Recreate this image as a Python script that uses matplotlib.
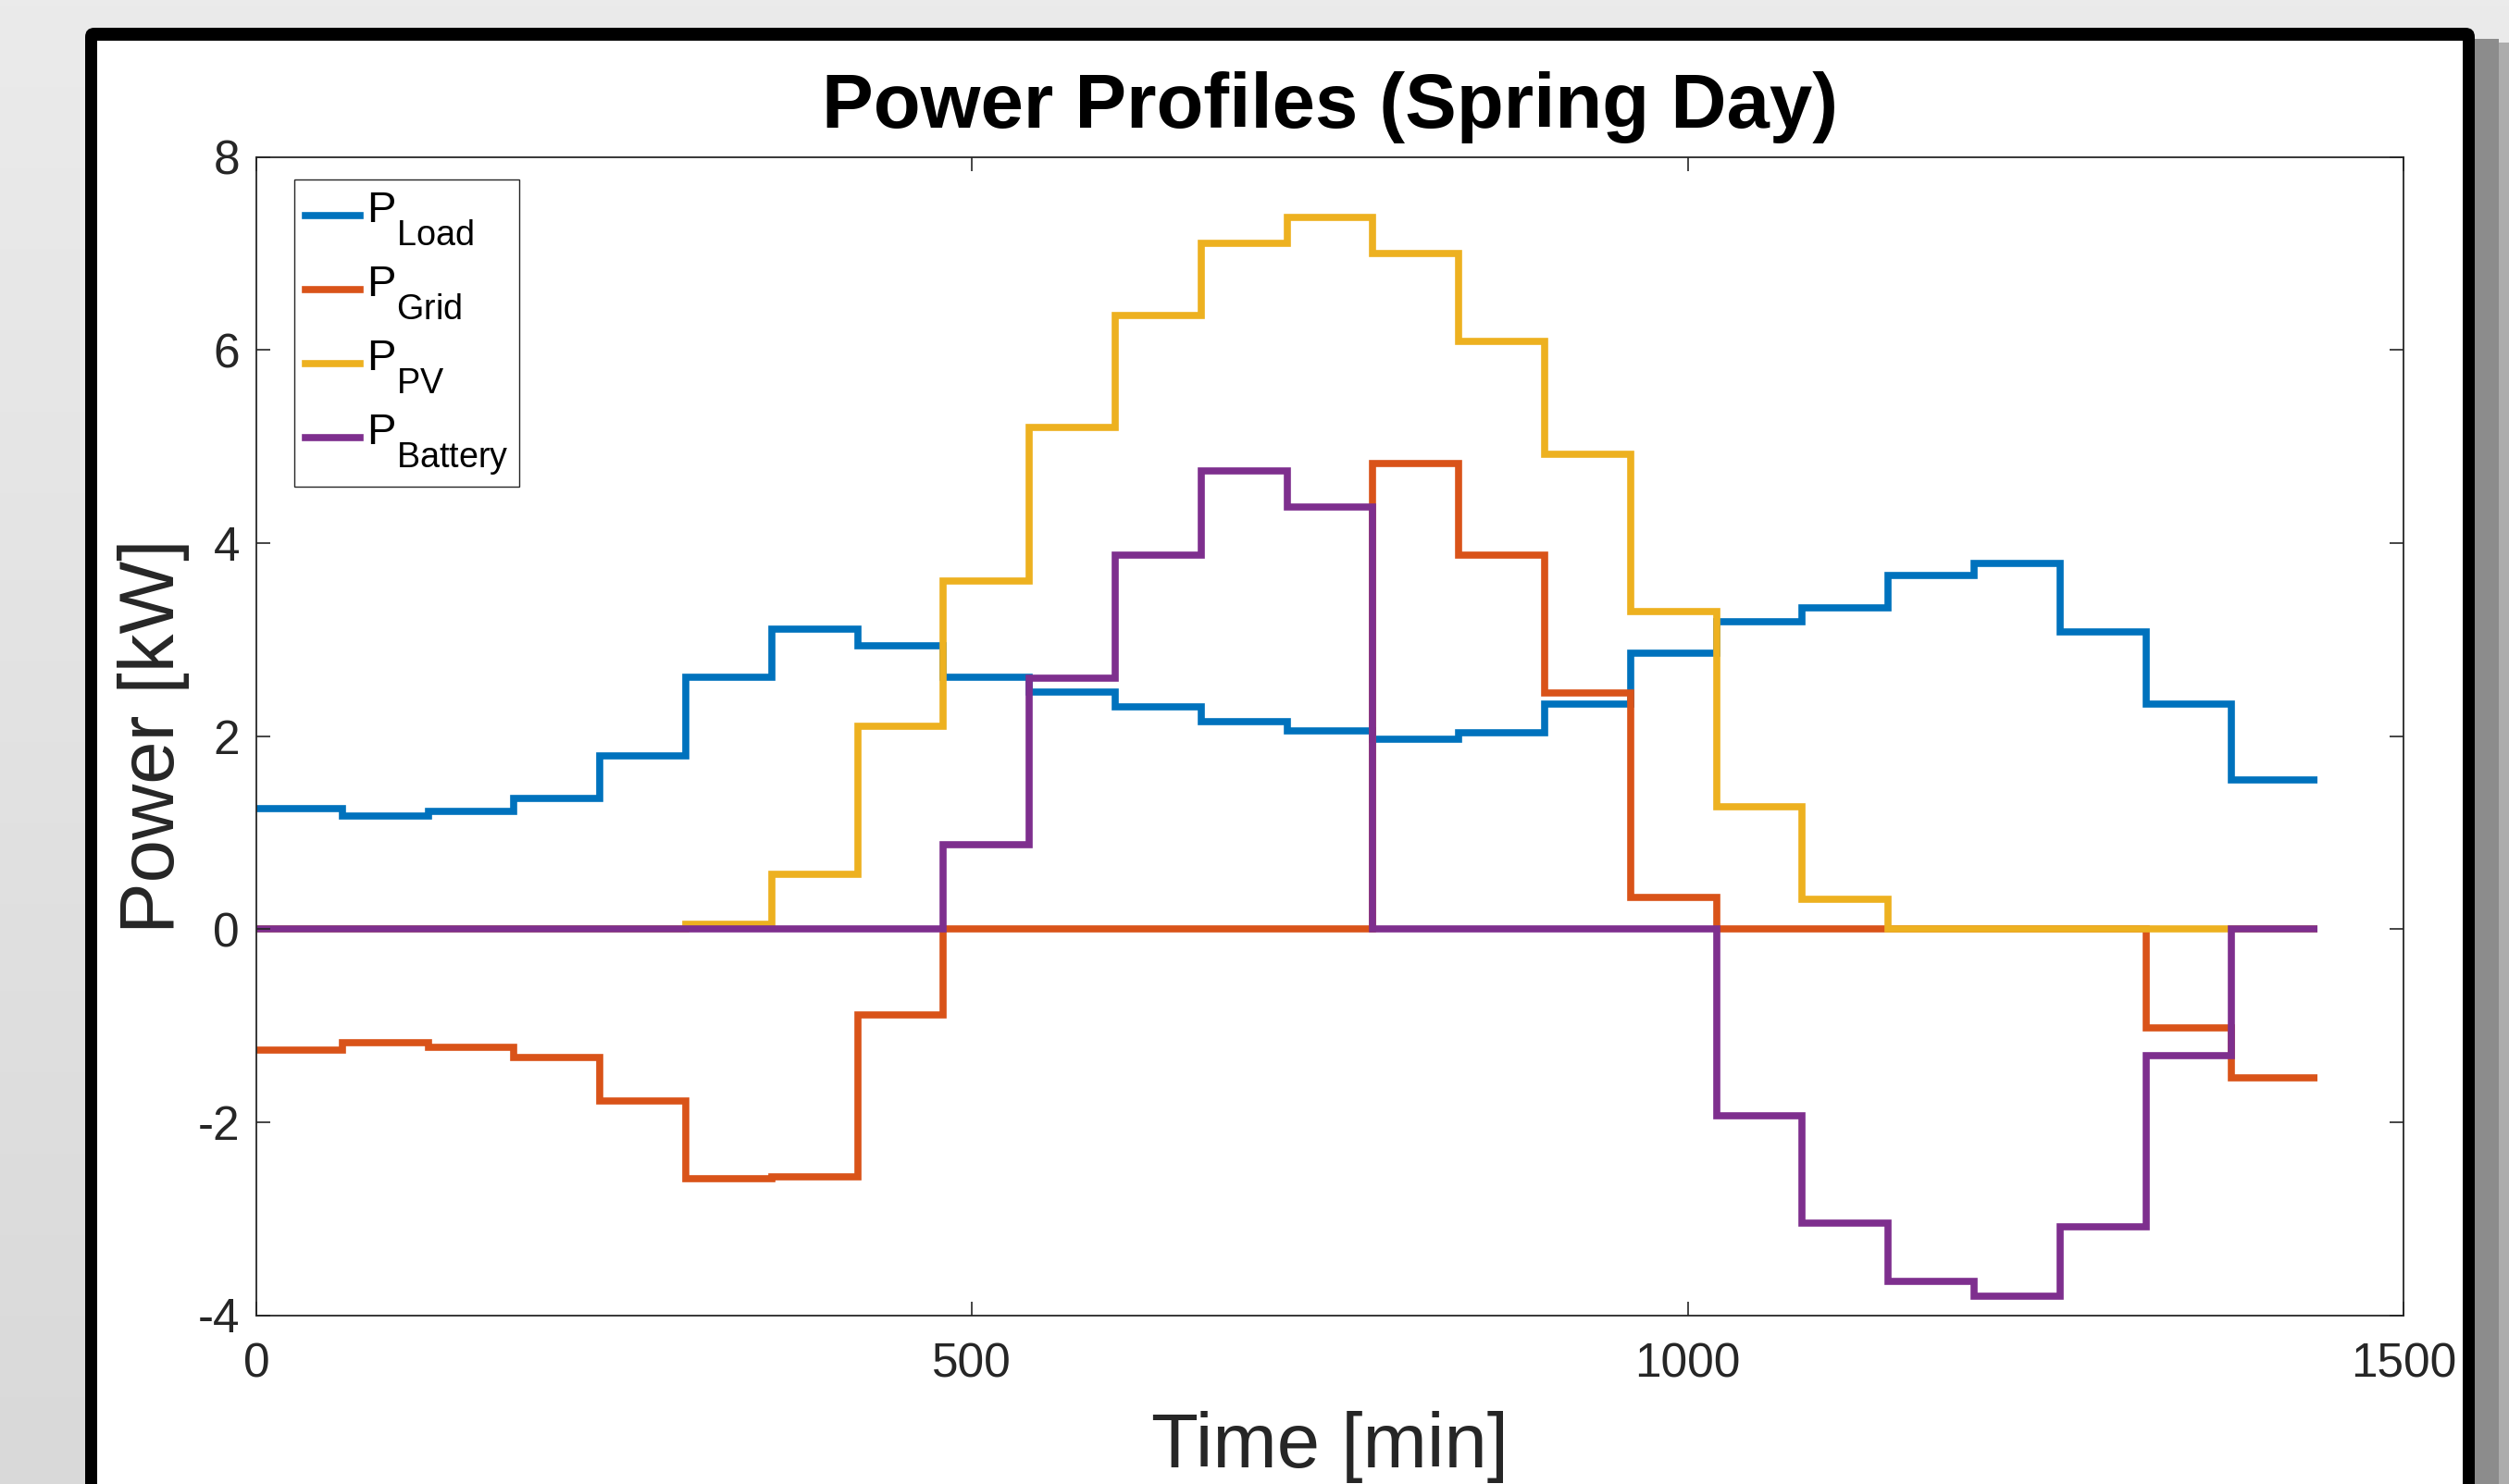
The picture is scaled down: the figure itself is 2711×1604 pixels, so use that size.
import matplotlib
matplotlib.use('Agg')
import matplotlib.pyplot as plt
import matplotlib._mathtext as mathtext_impl
import numpy as np
from matplotlib.patches import Rectangle, FancyBboxPatch
from matplotlib.transforms import IdentityTransform
from matplotlib.colors import LinearSegmentedColormap

plt.rcParams['font.family'] = ['Liberation Sans', 'DejaVu Sans']
plt.rcParams['mathtext.fontset'] = 'custom'
plt.rcParams['mathtext.rm'] = 'Liberation Sans'
plt.rcParams['axes.unicode_minus'] = False

# MATLAB-like subscripts: larger and lower than the mathtext default
mathtext_impl.SHRINK_FACTOR = 0.8
mathtext_impl.FontConstantsBase.sub1 = 1.0

# hourly step edges in minutes
time_edges = [0, 60, 120, 180, 240, 300, 360, 420, 480, 540, 600, 660, 720,
              780, 840, 900, 960, 1020, 1080, 1140, 1200, 1260, 1320, 1380, 1440]

# power per hour [kW]
p_load = [1.25, 1.17, 1.22, 1.35, 1.79, 2.61, 3.11, 2.93, 2.61, 2.46, 2.30, 2.15,
          2.05, 1.97, 2.03, 2.33, 2.86, 3.18, 3.33, 3.66, 3.79, 3.08, 2.33, 1.54]
p_grid = [-1.25, -1.18, -1.23, -1.33, -1.78, -2.59, -2.57, -0.89, 0, 0, 0, 0,
          0, 4.82, 3.87, 2.45, 0.33, 0, 0, 0, 0, 0, -1.02, -1.54]
p_pv = [0, 0, 0, 0, 0, 0.05, 0.57, 2.10, 3.61, 5.20, 6.36, 7.10,
        7.37, 7.00, 6.09, 4.92, 3.29, 1.27, 0.31, 0, 0, 0, 0, 0]
p_battery = [0, 0, 0, 0, 0, 0, 0, 0, 0.87, 2.60, 3.87, 4.75,
             4.37, 0, 0, 0, 0, -1.93, -3.05, -3.65, -3.80, -3.08, -1.31, 0]

series = [
    (p_load, '#0072BD', r'$\mathregular{P_{Load}}$'),
    (p_grid, '#D95319', r'$\mathregular{P_{Grid}}$'),
    (p_pv, '#EDB120', r'$\mathregular{P_{PV}}$'),
    (p_battery, '#7E2F8E', r'$\mathregular{P_{Battery}}$'),
]

W, H = 2711, 1604
fig = plt.figure(figsize=(W / 100, H / 100), dpi=100)
fig.patch.set_facecolor('#e4e4e4')

# grey background with a soft vertical gradient
bg = fig.add_axes([0, 0, 1, 1], zorder=-10)
grad = np.linspace(0, 1, 256).reshape(-1, 1)
bg.imshow(grad, aspect='auto', extent=[0, 1, 0, 1],
          cmap=LinearSegmentedColormap.from_list('bg', ['#ebebeb', '#d9d9d9']))
bg.axis('off')

# shadow, black frame and white panel (pixel coordinates)
px = IdentityTransform()
fig.add_artist(Rectangle((2674, -20), 26, H - 42 + 20, fc='#8c8c8c', ec='none',
                         transform=px, zorder=-6))
fig.add_artist(Rectangle((2700, -20), 11, H - 46 + 20, fc='#acacac', ec='none',
                         transform=px, zorder=-6))
fig.add_artist(FancyBboxPatch((92, -40), 2674 - 92, H - 30 + 40,
                              boxstyle='round,pad=0,rounding_size=10',
                              fc='black', ec='none', transform=px, zorder=-5))
fig.add_artist(Rectangle((105, -40), 2661 - 105, H - 44 + 40, fc='white', ec='none',
                         transform=px, zorder=-4))

ax = fig.add_axes([277 / W, 1 - 1421.5 / H, 2320 / W, 1252 / H], zorder=1)
ax.set_facecolor('white')

for values, color, label in series:
    ax.stairs(values, time_edges, baseline=None, color=color, linewidth=5.5, label=label)

ax.set_xlim(0, 1500)
ax.set_ylim(-4, 8)
ax.set_xticks([0, 500, 1000, 1500])
ax.set_yticks([-4, -2, 0, 2, 4, 6, 8])

axis_color = '#262626'
for sp in ax.spines.values():
    sp.set_color(axis_color)
    sp.set_linewidth(1.3)
ax.tick_params(direction='in', top=True, right=True, length=11, width=1.2,
               color=axis_color, labelcolor=axis_color, labelsize=37)
ax.tick_params(axis='x', pad=21)
ax.tick_params(axis='y', pad=13)

ax.set_title('Power Profiles (Spring Day)', fontsize=60, fontweight='bold', pad=23)
ax.set_xlabel('Time [min]', fontsize=60, color=axis_color, labelpad=18)
ax.set_ylabel('Power [kW]', fontsize=60, color=axis_color, labelpad=6)

leg = ax.legend(loc='upper left', bbox_to_anchor=(0.0177, 0.9804), borderaxespad=0,
                fontsize=34, frameon=True, fancybox=False, edgecolor=axis_color,
                framealpha=1, handlelength=1.25, handletextpad=0.15,
                borderpad=0.25, labelspacing=0.4)
leg.get_frame().set_linewidth(1.0)
# sit the legend lines near the baseline of the "P", as MATLAB does
for ln in leg.get_lines():
    ln.set_ydata(np.asarray(ln.get_ydata()) - 7)

fig.savefig('out.png', dpi=100, facecolor=fig.get_facecolor())
